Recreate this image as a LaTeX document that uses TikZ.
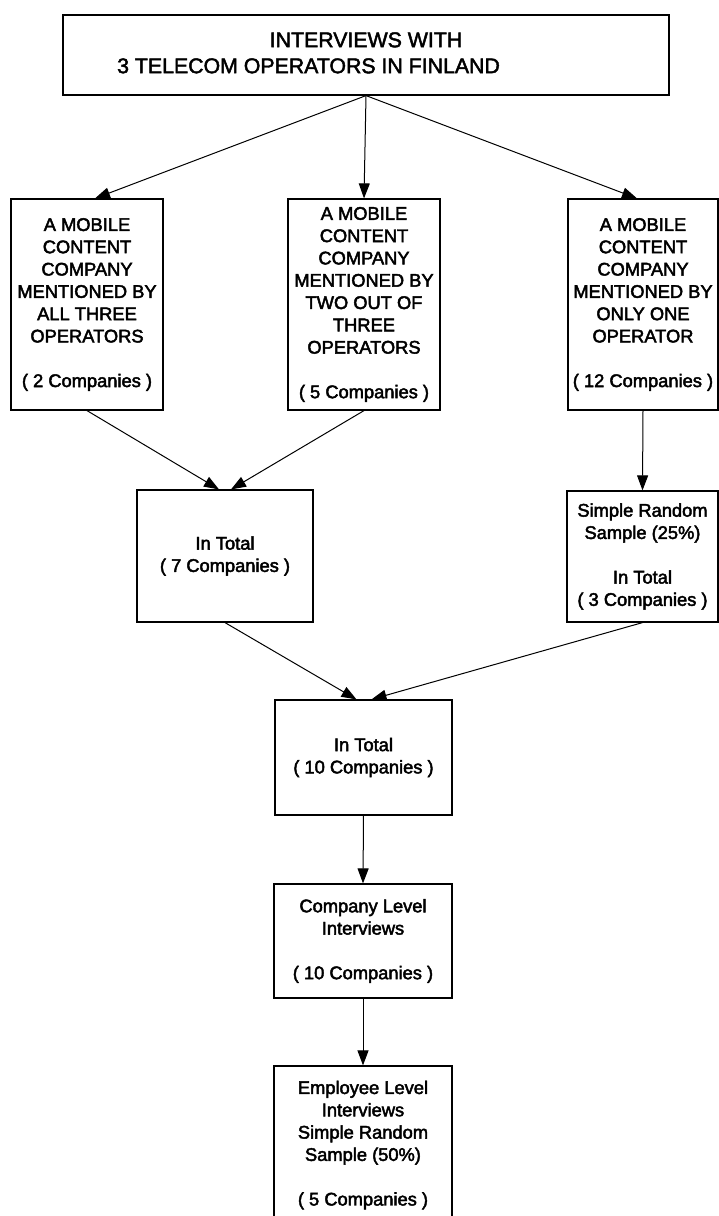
\documentclass[tikz,border=0pt]{standalone}
\usepackage{fontspec}
\setmainfont{Liberation Sans}
\usetikzlibrary{arrows.meta,calc}
% fill and stroke the glyphs so the lettering comes out a little heavier
\newcommand\heavyink{\special{pdf:literal direct 2 Tr 0.45 w}}

\begin{document}
\begin{tikzpicture}[x=1pt,y=-1pt,
  box/.style={draw,line width=1.2pt,rectangle,inner sep=0pt,align=center,
    font=\heavyink\fontsize{18.3}{22.3}\selectfont},
  headtext/.style={inner sep=0pt,font=\heavyink\fontsize{21.3}{25}\selectfont},
  link/.style={line width=1pt,-{Triangle[length=15pt,width=11pt]}},
]
% page area
\clip (0,0) rectangle (719,1216);
\fill[white] (0,0) rectangle (719,1216);

% heading box
\node[box,minimum width=606,minimum height=80] (top) at (366,55) {};
\node[headtext,anchor=base] (t1) at (366,47.2) {INTERVIEWS WITH};
\node[headtext,anchor=base west] (t2) at (117,73.2) {3 TELECOM OPERATORS IN FINLAND};

% three groups of companies
\node[box,minimum width=152,minimum height=211] (b1) at (87,304.5)
  {A MOBILE\\CONTENT\\COMPANY\\MENTIONED BY\\ALL THREE\\OPERATORS\\[22.3pt]( 2 Companies )};
\node[box,minimum width=152,minimum height=211] (b2) at (364,304.5)
  {A MOBILE\\CONTENT\\COMPANY\\MENTIONED BY\\TWO OUT OF\\THREE\\OPERATORS\\[22.3pt]( 5 Companies )};
\node[box,minimum width=150,minimum height=211] (b3) at (643,304.5)
  {A MOBILE\\CONTENT\\COMPANY\\MENTIONED BY\\ONLY ONE\\OPERATOR\\[22.3pt]( 12 Companies )};

% totals
\node[box,minimum width=176,minimum height=132] (t7) at (225,556)
  {In Total\\( 7 Companies )};
\node[box,minimum width=151,minimum height=131] (sr) at (642.5,556.5)
  {Simple Random\\Sample (25\%)\\[22.3pt]In Total\\( 3 Companies )};
\node[box,minimum width=177,minimum height=115] (t10) at (363.5,757.5)
  {In Total\\( 10 Companies )};

% interview levels
\node[box,minimum width=178,minimum height=114] (co) at (363,941)
  {Company Level\\Interviews\\[22.3pt]( 10 Companies )};
\node[box,minimum width=178,minimum height=158] (em) at (363,1145)
  {Employee Level\\Interviews\\Simple Random\\Sample (50\%)\\[22.3pt]( 5 Companies )};

% connectors
\draw[link] (top.south) -- ($(b1.north)+(8,0)$);
\draw[link] (top.south) -- (b2.north);
\draw[link] (top.south) -- ($(b3.north)+(-6,0)$);
\draw[link] (b1.south) -- ($(t7.north)+(-6,0)$);
\draw[link] (b2.south) -- ($(t7.north)+(6,0)$);
\draw[link] (b3.south) -- (sr.north);
\draw[link] (t7.south) -- ($(t10.north)+(-7,0)$);
\draw[link] (sr.south) -- ($(t10.north)+(8,0)$);
\draw[link] (t10.south) -- (co.north);
\draw[link] (co.south) -- (em.north);
\end{tikzpicture}
\end{document}
